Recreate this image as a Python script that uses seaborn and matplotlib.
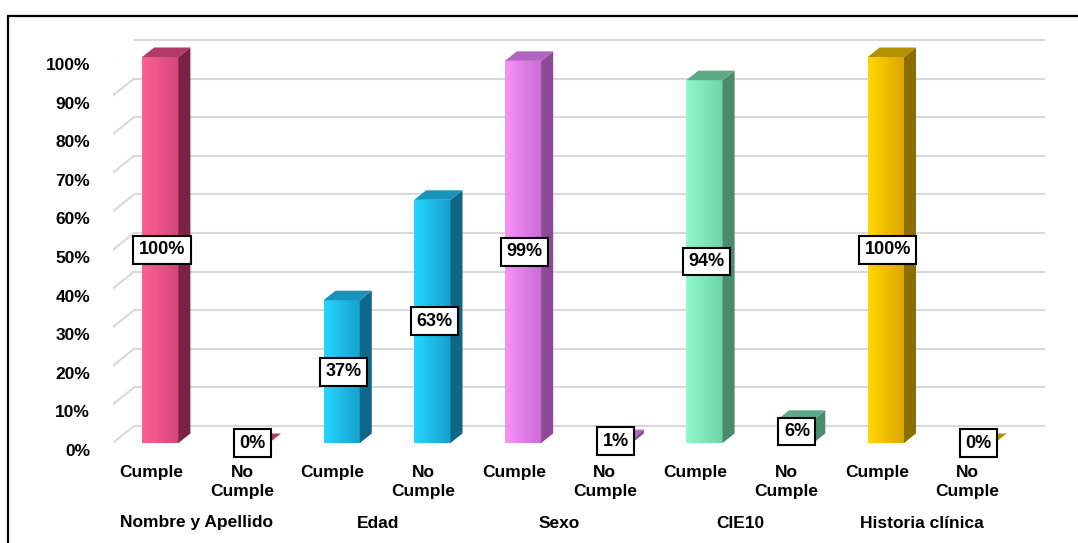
import numpy as np
import pandas as pd
import matplotlib
matplotlib.use("Agg")
import matplotlib.pyplot as plt
import matplotlib.transforms as mtransforms
from matplotlib.patches import Polygon
from matplotlib.lines import Line2D
import seaborn as sns

# ---- data ----
groups = ["Nombre y Apellido", "Edad", "Sexo", "CIE10", "Historia clínica"]
cumple = [100, 37, 99, 94, 100]
no_cumple = [0, 63, 1, 6, 0]
sub_labels = ["Cumple", "No\nCumple"]
y_ticks = [0, 10, 20, 30, 40, 50, 60, 70, 80, 90, 100]
y_tick_labels = [f"{t}%" for t in y_ticks]

# colours per group: (front left, front right, side, top)
front_left = ["#FF5E93", "#24D6FF", "#F892FA", "#92F8CE", "#FFD700"]
front_right = ["#D4477A", "#179FCC", "#C96CD3", "#6CD4A6", "#DDA600"]
side_col = ["#7A2347", "#0E6786", "#8B4A96", "#4C8A6E", "#8A6E00"]
top_col = ["#B23A69", "#1893BC", "#B262C0", "#5EAA88", "#B39000"]

rows = []
for g, c, n in zip(groups, cumple, no_cumple):
    rows.append({"item": g + "|Cumple", "grupo": g, "valor": c})
    rows.append({"item": g + "|No Cumple", "grupo": g, "valor": n})
df = pd.DataFrame(rows)
order = list(df["item"])
values = list(df["valor"])

sns.set_theme(style="white")
plt.rcParams["font.family"] = ["Liberation Sans", "DejaVu Sans"]

W, H, DPI = 1078, 543, 100
fig = plt.figure(figsize=(W / DPI, H / DPI), dpi=DPI)
fig.patch.set_facecolor("white")

# axes = front plane of bars
ax_l, ax_r, ax_b, ax_t = 113, 1024, 443, 57
ax = fig.add_axes([ax_l / W, (H - ax_b) / H, (ax_r - ax_l) / W, (ax_b - ax_t) / H])
ax.set_facecolor("none")

sns.barplot(data=df, x="item", y="valor", hue="grupo", order=order,
            palette=dict(zip(groups, front_left)), dodge=False, width=0.40,
            errorbar=None, legend=False, ax=ax, zorder=2, linewidth=0)

step = 90.7
x0 = (ax_l - 160.25) / step
x1 = (ax_r - 160.25) / step
ax.set_xlim(x0, x1)
ax.set_ylim(0, 100)

def off(dx_px, dy_px):
    # dy_px positive = down on screen
    return ax.transData + mtransforms.ScaledTranslation(dx_px / DPI, -dy_px / DPI, fig.dpi_scale_trans)

# back wall gridlines + left wall diagonals
for t in y_ticks:
    ax.plot([x0, x1], [t, t], color="#D9D9D9", lw=1.5, transform=off(21, -17),
            clip_on=False, zorder=0.5, solid_capstyle="butt")
    p_front = ax.transData.transform((x0, t)) + np.array([-9, -7])
    p_back = ax.transData.transform((x0, t)) + np.array([21, 17])
    ax.add_line(Line2D([p_front[0], p_back[0]], [p_front[1], p_back[1]],
                       transform=None, color="#D9D9D9", lw=1.5, zorder=0.5))

# px -> data conversions for bar depth
px_x = ax.transData.transform((1, 0))[0] - ax.transData.transform((0, 0))[0]
px_y = ax.transData.transform((0, 1))[1] - ax.transData.transform((0, 0))[1]
ddx = 12 / px_x
ddy = 9.5 / px_y

bars = [p for p in ax.patches]
bars.sort(key=lambda p: p.get_x())
grad = np.linspace(0, 1, 64).reshape(1, -1)
for i, p in enumerate(bars):
    gi = i // 2
    xl = p.get_x(); w = p.get_width(); v = p.get_height()
    cmap = matplotlib.colors.LinearSegmentedColormap.from_list(
        f"g{i}", [front_left[gi], front_right[gi]])
    if v > 0:
        im = ax.imshow(grad, extent=(xl, xl + w, 0, v), aspect="auto", cmap=cmap,
                       zorder=2.1, origin="lower", clip_on=True)
        im.set_clip_path(p)
    side = Polygon([(xl + w, 0), (xl + w, v), (xl + w + ddx, v + ddy), (xl + w + ddx, ddy)],
                   closed=True, fc=side_col[gi], ec="none", zorder=2.2, clip_on=False)
    top = Polygon([(xl, v), (xl + w, v), (xl + w + ddx, v + ddy), (xl + ddx, v + ddy)],
                  closed=True, fc=top_col[gi], ec="none", zorder=2.2, clip_on=False)
    ax.add_patch(side); ax.add_patch(top)
    ax.text(xl + w / 2 + 0.02, v / 2, f"{values[i]:d}%", ha="center", va="center", fontsize=13,
            fontweight="bold", color="black", zorder=5,
            bbox=dict(boxstyle="square,pad=0.3", fc="white", ec="black", lw=1.5))

ax.set_xlim(x0, x1)
ax.set_ylim(0, 100)

# ticks
ax.set_yticks(y_ticks)
ax.set_yticklabels(y_tick_labels, fontsize=12.5, fontweight="bold", color="black")
ax.set_xticks(range(len(order)))
ax.set_xticklabels(sub_labels * len(groups), fontsize=12.5, fontweight="bold", color="black",
                   linespacing=1.3)
ax.tick_params(axis="both", length=0)
ax.tick_params(axis="y", pad=10)
ax.tick_params(axis="x", pad=11)
for lab in ax.get_yticklabels():
    lab.set_transform(lab.get_transform() + mtransforms.ScaledTranslation(-9 / DPI, -7 / DPI, fig.dpi_scale_trans))
for lab in ax.get_xticklabels():
    lab.set_transform(lab.get_transform() + mtransforms.ScaledTranslation(-9 / DPI, -7 / DPI, fig.dpi_scale_trans))
ax.set_xlabel(""); ax.set_ylabel("")
for s in ax.spines.values():
    s.set_visible(False)
ax.grid(False)

# group labels
for gi, g in enumerate(groups):
    ax.text(2 * gi + 0.5, 0, g, ha="center", va="center", fontsize=12.5, fontweight="bold",
            color="black", transform=off(-9, 80), clip_on=False)

# outer border (left and top)
fig.add_artist(Line2D([8 / W, 8 / W], [0, 1 - 16 / H], color="black", lw=1.6,
                      transform=fig.transFigure))
fig.add_artist(Line2D([8 / W, 1], [1 - 16 / H, 1 - 16 / H], color="black", lw=1.6,
                      transform=fig.transFigure))

fig.savefig("out.png", dpi=DPI, facecolor="white")
